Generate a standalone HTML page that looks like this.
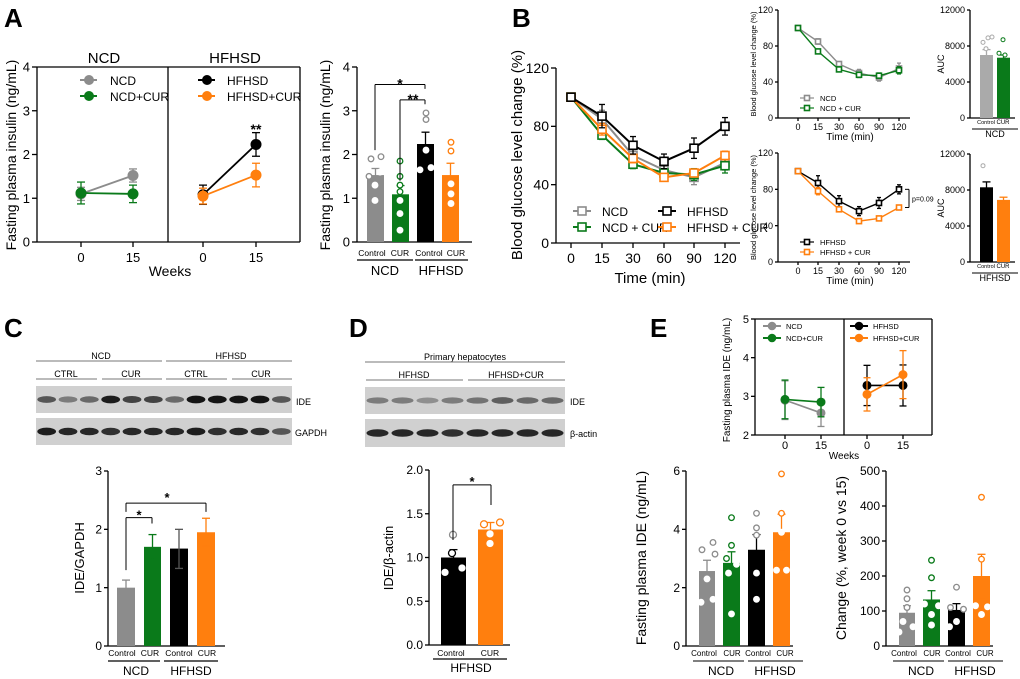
<!DOCTYPE html>
<html><head><meta charset="utf-8"><style>
html,body{margin:0;padding:0;background:#fff;}
svg{display:block;font-family:"Liberation Sans",Arial,sans-serif;}
</style></head><body>
<svg id="s" width="1020" height="679" xmlns="http://www.w3.org/2000/svg"></svg>
<script>
const S=document.getElementById('s');let h='';
const G='#8c8c8c',GR='#0a7a1a',K='#000',O='#ff7f0e';
function L(a,b,c,d,col='#000',w=1.3){h+=`<line x1="${a}" y1="${b}" x2="${c}" y2="${d}" stroke="${col}" stroke-width="${w}"/>`;}
function T(x,y,s,sz,anc='middle',wt='normal',rot=0,col='#000'){h+=`<text x="${x}" y="${y}" font-size="${sz}" text-anchor="${anc}" font-weight="${wt}" fill="${col}"${rot?` transform="rotate(${rot} ${x} ${y})"`:''}>${s}</text>`;}
function R(x,y,w,hh,f,st='none',sw=1){h+=`<rect x="${x}" y="${y}" width="${w}" height="${hh}" fill="${f}" stroke="${st}" stroke-width="${sw}"/>`;}
function C(x,y,r,f,st,sw=1.3){h+=`<circle cx="${x}" cy="${y}" r="${r}" fill="${f}" stroke="${st}" stroke-width="${sw}"/>`;}
function yax(x,y0,y1,labs,sz,tl=4){L(x,y0,x,y1);const n=labs.length-1;labs.forEach((l,i)=>{const y=y0+(y1-y0)*i/n;L(x-tl,y,x,y);T(x-tl-2,y+sz*0.35,l,sz,'end');});}
function eb(x,yt,yb,col,w=4){L(x,yt,x,yb,col,1.3);L(x-w,yt,x+w,yt,col,1.3);L(x-w,yb,x+w,yb,col,1.3);}
function bar(x1,x2,y0,yv,col,e){R(x1,yv,x2-x1,y0-yv,col);if(e!==undefined){eb((x1+x2)/2,yv-e,yv+e,col==K?'#000':col,4);}}
function bigLab(x,y,s){T(x,y,s,26,'start','bold');}

// ---------- Panel A ----------
bigLab(4,27,'A');
{const y0=242,u=43.75,Y=v=>y0-v*u;
yax(37,y0,67,['0','1','2','3','4'],13,5);
L(37,y0,300,y0);L(37,67,300,67);L(300,67,300,y0);L(168,67,168,y0);
[[81,'0'],[133,'15'],[203,'0'],[256,'15']].forEach(([x,l])=>{L(x,y0,x,y0+5);T(x,y0+20,l,13);});
T(104,63,'NCD',15);T(235,63,'HFHSD',15);T(170,276,'Weeks',14);
T(16,155,'Fasting plasma insulin (ng/mL)',14,'middle','normal',-90);
function ser(xs,vs,es,col){L(xs[0],Y(vs[0]),xs[1],Y(vs[1]),col,1.8);xs.forEach((x,i)=>{eb(x,Y(vs[i]+es[i]),Y(vs[i]-es[i]),col,4);C(x,Y(vs[i]),5,col,col,1);});}
ser([81,133],[1.1,1.52],[0.15,0.15],G);ser([81,133],[1.12,1.1],[0.25,0.2],GR);
ser([203,256],[1.08,2.23],[0.22,0.27],K);ser([203,256],[1.05,1.53],[0.18,0.27],O);
T(256,134,'**',14,'middle','bold');
[[80,G,'NCD'],[96,GR,'NCD+CUR']].forEach(([y,c,s])=>{L(80,y,97,y,c,2);C(89,y,4.5,c,c,1);T(110,y+5,s,12,'start');});
[[80,K,'HFHSD'],[96,O,'HFHSD+CUR']].forEach(([y,c,s])=>{L(198,y,215,y,c,2);C(207,y,4.5,c,c,1);T(227,y+5,s,12,'start');});
}
{const y0=242,u=43.75,Y=v=>y0-v*u;
yax(357,y0,67,['0','1','2','3','4'],13,5);L(357,y0,472,y0);
T(330,155,'Fasting plasma insulin (ng/mL)',14,'middle','normal',-90);
bar(367,384,y0,Y(1.53),G,0.15*u);bar(392,409,y0,Y(1.09),GR,0.2*u);bar(417,434,y0,Y(2.24),K,0.27*u);bar(442,459,y0,Y(1.53),O,0.27*u);
[[371,1.9],[381,1.95],[369,1.5]].forEach(([x,v])=>C(x,Y(v),2.8,'#fff',G));[[380,1.6],[375,1.3],[375,0.95]].forEach(([x,v])=>C(x,Y(v),2.8,'#fff','#fff'));
[[400,1.85],[400,1.5],[400,1.3],[400,1.15]].forEach(([x,v])=>C(x,Y(v),2.8,'#fff',GR));[[400,0.95],[400,0.65],[400,0.27]].forEach(([x,v])=>C(x,Y(v),2.8,'#fff','#fff'));
[[426,2.95],[426,2.8]].forEach(([x,v])=>C(x,Y(v),2.8,'#fff',G));[[426,2.1],[420,1.65],[431,1.7]].forEach(([x,v])=>C(x,Y(v),2.8,'#fff','#fff'));
[[451,2.28],[451,2.08]].forEach(([x,v])=>C(x,Y(v),2.8,'#fff',O));[[451,1.33],[451,1.1],[451,0.88]].forEach(([x,v])=>C(x,Y(v),2.8,'#fff','#fff'));
L(375,Y(2.1),375,Y(3.6),'#000',1);L(375,Y(3.6),425,Y(3.6),'#000',1);L(425,Y(3.6),425,Y(3.5),'#000',1);T(400,Y(3.6)+4,'*',14,'middle','bold');
L(400,Y(1.4),400,Y(3.25),'#000',1);L(400,Y(3.25),425,Y(3.25),'#000',1);L(425,Y(3.25),425,Y(3.15),'#000',1);T(413,Y(3.25)+4,'**',14,'middle','bold');
T(372,256,'Control',8.5);T(400,256,'CUR',8.5);T(429,256,'Control',8.5);T(456,256,'CUR',8.5);
L(357,260,413,260);L(415,260,468,260);T(385,275,'NCD',13);T(441,275,'HFHSD',13);
}
// ---------- Panel B ----------
bigLab(512,27,'B');
const BX=[0,15,30,60,90,120];
function sq(x,y,c,s=4){R(x-s,y-s,2*s,2*s,'#fff',c,1.6);}
{const y0=243,Y=v=>y0-v*(175/120);const xs=[571,602,633,664,694,725];
yax(556,y0,68,['0','40','80','120'],14,5);L(556,y0,740,y0);
xs.forEach((x,i)=>{L(x,y0,x,y0+5);T(x,y0+20,BX[i],14);});
T(650,283,'Time (min)',15);T(522,155,'Blood  glucose level change (%)',15,'middle','normal',-90);
const D=[[G,[100,85,60,50,45,55],[0,6,3,4,5,5]],[GR,[100,74,54,48,47,53],[0,3,3,3,4,5]],[O,[100,78,58,45,48,60],[0,4,3,2,2,3]],[K,[100,87,67,56,65,80],[0,8,6,5,7,6]]];
D.forEach(([c,v,e])=>{h+=`<polyline fill="none" stroke="${c}" stroke-width="2" points="${xs.map((x,i)=>x+','+Y(v[i])).join(' ')}"/>`;xs.forEach((x,i)=>{if(e[i])eb(x,Y(v[i]+e[i]),Y(v[i]-e[i]),c,3);sq(x,Y(v[i]),c);});});
[[211,G,'NCD',573],[227,GR,'NCD + CUR',573],[211,K,'HFHSD',658],[227,O,'HFHSD + CUR',658]].forEach(([y,c,s,x])=>{L(x,y,x+18,y,c,2);sq(x+9,y,c);T(x+29,y+5,s,12,'start');});
}
function small(y0,ytop,data,leg,pv){const Y=v=>y0-v*((y0-ytop)/120);const xs=[798,818,839,859,879,899];
yax(778,y0,ytop,['0','40','80','120'],9,3);L(778,y0,910,y0);
xs.forEach((x,i)=>{L(x,y0,x,y0+3);T(x,y0+12,BX[i],9);});
T(850,y0+22,'Time (min)',10);T(756,(y0+ytop)/2,'Blood  glucose level change (%)',7.5,'middle','normal',-90);
data.forEach(([c,v,e])=>{h+=`<polyline fill="none" stroke="${c}" stroke-width="1.4" points="${xs.map((x,i)=>x+','+Y(v[i])).join(' ')}"/>`;xs.forEach((x,i)=>{if(e[i])eb(x,Y(v[i]+e[i]),Y(v[i]-e[i]),c,2);sq(x,Y(v[i]),c,2.5);});});
leg.forEach(([y,c,s])=>{L(800,y,814,y,c,1.2);sq(807,y,c,2.5);T(820,y+3,s,7.5,'start');});
if(pv){L(905,Y(80),909,Y(80),'#000',1);L(909,Y(80),909,Y(60),'#000',1);L(905,Y(60),909,Y(60),'#000',1);T(912,Y(70)+3,'p=0.09',7,'start');}
}
small(118,10,[[G,[100,85,60,50,45,55],[0,3,2,4,4,6]],[GR,[100,74,54,48,47,53],[0,2,2,3,3,4]]],[[98,G,'NCD'],[108,GR,'NCD + CUR']]);
small(262,153,[[K,[100,87,67,56,65,80],[0,8,6,5,6,5]],[O,[100,78,58,45,48,60],[0,4,2,1,1,1]]],[[242,K,'HFHSD'],[252,O,'HFHSD + CUR']],1);
function auc(y0,ytop,vals,cols,lab){const Y=v=>y0-v*((y0-ytop)/12000);
yax(970,y0,ytop,['0','4000','8000','12000'],9,3);L(970,y0,1015,y0);T(944,(y0+ytop)/2,'AUC',9,'middle','normal',-90);
bar(980,993,y0,Y(vals[0]),cols[0],(y0-ytop)*600/12000);bar(997,1010,y0,Y(vals[1]),cols[1],(y0-ytop)*300/12000);
T(986,y0+6,'Control',5.5);T(1003,y0+6,'CUR',6);L(972,y0+11,1018,y0+11,'#000',1);T(995,y0+19,lab,9);}
auc(118,10,[7000,6700],['#aaaaaa',GR],'NCD');auc(262,154,[8300,6900],[K,O],'HFHSD');
[[983,8400],[988,8900],[992,9000],[986,7700]].forEach(([x,v])=>C(x,118-v*108/12000,2,'#fff','#aaa',1));
[[1003,8700],[999,7200],[1005,7000]].forEach(([x,v])=>C(x,118-v*108/12000,2,'#fff',GR,1));
C(983,262-10700*108/12000,2,'#fff','#aaa',1);
// ---------- Panel C ----------
bigLab(4,337,'C');
function blot(x,y,w,hh,n,ints){R(x,y,w,hh,'#d0d0d0');const lw=w/n;for(let i=0;i<n;i++){const c=ints[i];h+=`<ellipse cx="${x+lw*(i+0.5)}" cy="${y+hh/2}" rx="${lw*0.44}" ry="${2.5+c*1.5}" fill="rgb(${Math.round(200-c*190)},${Math.round(200-c*190)},${Math.round(200-c*190)})"/>`;}}
T(101,359,'NCD',9);T(231,359,'HFHSD',9);L(36,361,162,361,'#777',1);L(166,361,292,361,'#777',1);
[[66,'CTRL'],[131,'CUR'],[196,'CTRL'],[261,'CUR']].forEach(([x,s])=>T(x,377,s,9));
[[36,97],[102,162],[166,227],[232,292]].forEach(([a,b])=>L(a,379,b,379,'#777',1));
blot(36,386,256,27,12,[0.6,0.4,0.5,0.9,0.7,0.7,0.5,0.95,0.95,0.95,0.95,0.6]);
blot(36,418,256,27,12,[0.9,0.85,0.85,0.8,0.85,0.85,0.85,0.9,0.8,0.85,0.8,0.6]);
T(296,405,'IDE',9,'start');T(295,436,'GAPDH',9,'start');
{const y0=646,u=175/3,Y=v=>y0-v*u;
yax(108,y0,471,['0','1','2','3'],12,4);L(108,y0,225,y0);
T(84,558,'IDE/GAPDH',13,'middle','normal',-90);
bar(117,135,y0,Y(1.0),G,0.13*u);bar(144,161,y0,Y(1.7),GR,0.21*u);bar(170,188,y0,Y(1.67),K);eb(179,Y(2.0),Y(1.33),'#555',4);bar(197,215,y0,Y(1.95),O,0.24*u);
L(126,Y(1.3),126,Y(2.2),'#000',1);L(126,Y(2.2),152,Y(2.2),'#000',1);L(152,Y(2.2),152,Y(2.1),'#000',1);T(139,Y(2.2)+2,'*',13,'middle','bold');
L(126,Y(2.3),126,Y(2.45),'#000',1);L(126,Y(2.45),206,Y(2.45),'#000',1);L(206,Y(2.45),206,Y(2.3),'#000',1);T(167,Y(2.45)-1,'*',13,'middle','bold');
T(122,656,'Control',8.5);T(150,656,'CUR',8.5);T(179,656,'Control',8.5);T(207,656,'CUR',8.5);
L(108,661,160,661);L(164,661,218,661);T(136,675,'NCD',12);T(191,675,'HFHSD',12);
}
// ---------- Panel D ----------
bigLab(349,337,'D');
T(465,360,'Primary hepatocytes',9);L(365,362,565,362,'#777',1);
T(414,378,'HFHSD',9);T(516,378,'HFHSD+CUR',9);L(366,380,463,380,'#777',1);L(468,380,565,380,'#777',1);
blot(365,387,200,27,8,[0.4,0.4,0.3,0.4,0.45,0.55,0.5,0.5]);
blot(365,419,200,28,8,[0.85,0.85,0.85,0.8,0.85,0.85,0.85,0.85]);
T(570,405,'IDE',9,'start');T(570,437,'β-actin',9,'start');
{const y0=645,u=175/2,Y=v=>y0-v*u;
yax(429,y0,470,['0.0','0.5','1.0','1.5','2.0'],12,4);L(429,y0,510,y0);
T(393,558,'IDE/β-actin',13,'middle','normal',-90);
bar(441,466,y0,Y(1.0),K,0.09*u);bar(478,503,y0,Y(1.32),O,0.08*u);
C(453,Y(1.26),3.5,'#fff',G);C(452,Y(1.05),3.5,'#fff',K);[[445,0.83],[462,0.88]].forEach(([x,v])=>C(x,Y(v),3,'#fff','#fff'));
[[484,1.38],[500,1.4]].forEach(([x,v])=>C(x,Y(v),3.5,'#fff',O));[[490,1.27],[490,1.16]].forEach(([x,v])=>C(x,Y(v),3,'#fff','#fff'));
L(453,Y(1.2),453,Y(1.83),'#000',1);L(453,Y(1.83),491,Y(1.83),'#000',1);L(491,Y(1.83),491,Y(1.6),'#000',1);T(472,Y(1.83)+1,'*',13,'middle','bold');
T(451,656,'Control',8.5);T(490,656,'CUR',8.5);L(433,659,507,659);T(471,672,'HFHSD',12);
}
// ---------- Panel E ----------
bigLab(650,337,'E');
{const y0=435,u=38.7,Y=v=>y0-(v-2)*u;
yax(755,y0,319,['2','3','4','5'],11,4);L(755,y0,932,y0);L(755,319,932,319);L(932,319,932,y0);L(844,319,844,y0);
[[785,'0'],[821,'15'],[867,'0'],[903,'15']].forEach(([x,l])=>{L(x,y0,x,y0+4);T(x,y0+14,l,11);});
T(844,459,'Weeks',10);T(730,380,'Fasting plasma IDE (ng/mL)',10,'middle','normal',-90);
function ser(xs,vs,es,col){L(xs[0],Y(vs[0]),xs[1],Y(vs[1]),col,1.6);xs.forEach((x,i)=>{eb(x,Y(vs[i]+es[i]),Y(vs[i]-es[i]),col,3.5);C(x,Y(vs[i]),4,col,col,1);});}
ser([785,821],[2.9,2.57],[0.5,0.35],G);ser([785,821],[2.92,2.85],[0.5,0.38],GR);
ser([867,903],[3.28,3.28],[0.52,0.53],K);ser([867,903],[3.05,3.56],[0.43,0.62],O);
[[326,G,'NCD'],[338,GR,'NCD+CUR']].forEach(([y,c,s])=>{L(763,y,781,y,c,2);C(772,y,3.8,c,c,1);T(786,y+3,s,7.5,'start');});
[[326,K,'HFHSD'],[338,O,'HFHSD+CUR']].forEach(([y,c,s])=>{L(850,y,868,y,c,2);C(859,y,3.8,c,c,1);T(873,y+3,s,7.5,'start');});
}
function ebar(ax,ytop,labs,vals,errs,title,dots){const y0=646,max=+labs[labs.length-1],Y=v=>y0-v*((y0-ytop)/max);
yax(ax,y0,ytop,labs,12,4);L(ax,y0,ax+107,y0);T(ax-40,558,title,14,'middle','normal',-90);
const bx=[[ax+13,ax+29],[ax+37,ax+54],[ax+62,ax+79],[ax+87,ax+104]];const cs=[G,GR,K,O];
bx.forEach(([a,b],i)=>{bar(a,b,y0,Y(vals[i]),cs[i],errs[i]*((y0-ytop)/max));});
dots.forEach(([i,dx,v,o])=>{const x=(bx[i][0]+bx[i][1])/2+dx;C(x,Y(v),2.8,'#fff',o?cs[i]==K?G:cs[i]:'#fff');});
T(ax+18,656,'Control',8);T(ax+46,656,'CUR',8);T(ax+72,656,'Control',8);T(ax+99,656,'CUR',8);
L(ax+7,661,ax+58,661,'#555',1.5);L(ax+62,661,ax+117,661,'#555',1.5);T(ax+35,675,'NCD',12);T(ax+89,675,'HFHSD',12);}
ebar(686,471,['0','2','4','6'],[2.57,2.85,3.3,3.9],[0.37,0.38,0.52,0.62],'Fasting plasma IDE (ng/mL)',
[[0,-5,3.3,1],[0,6,3.55,1],[0,8,3.15,1],[0,0,2.3,0],[0,-6,1.5,0],[0,6,1.6,0],[1,0,4.4,1],[1,0,3.45,1],[1,-5,3.0,1],[1,5,2.8,0],[1,-3,2.5,0],[1,0,1.1,0],[2,0,4.55,1],[2,0,4.05,1],[2,0,3.8,1],[2,0,2.5,0],[2,0,1.6,0],[3,0,5.9,1],[3,0,4.55,1],[3,0,3.9,0],[3,-5,2.6,0],[3,5,2.6,0]]);
ebar(886,471,['0','100','200','300','400','500'],[95,133,103,200],[20,25,18,62],'Change (%, week 0 vs 15)',
[[0,0,160,1],[0,0,135,1],[0,0,110,1],[0,-4,70,0],[0,-8,40,0],[0,6,55,0],[1,0,245,1],[1,0,195,1],[1,-7,120,0],[1,7,115,0],[1,0,90,0],[1,0,60,0],[2,0,168,1],[2,-6,110,1],[2,7,105,1],[2,0,70,0],[2,-7,55,0],[3,0,425,1],[3,0,248,1],[3,-6,115,0],[3,6,112,0],[3,0,90,0]]);
S.innerHTML=h;
</script>
</body></html>
